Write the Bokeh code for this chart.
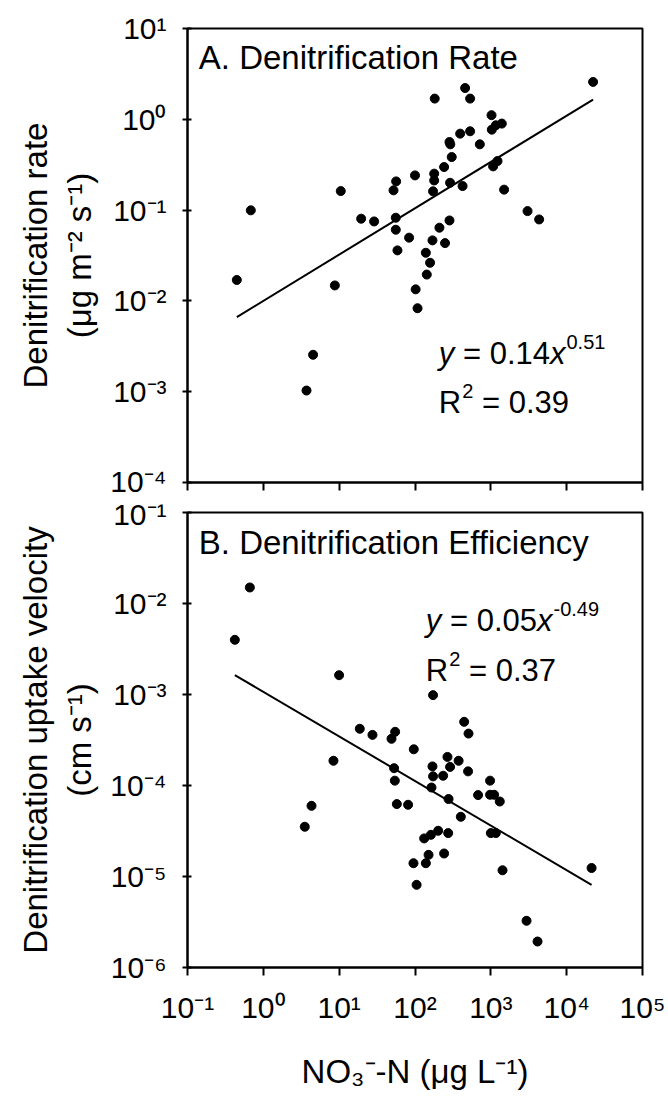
import numpy as np
from bokeh.plotting import figure
from bokeh.layouts import column
from bokeh.models import Label, FixedTicker, Range1d
from bokeh.embed import file_html
from bokeh.resources import INLINE

# ---------------- data ----------------
nitrate_a = [22300, 458, 533, 182, 1021, 1396, 1030, 1164, 394, 533, 285, 292, 716, 305,
             1225, 1072, 242, 100, 179, 179, 56.4, 52.1, 173, 290, 424, 10.5, 1496, 0.684,
             19.5, 28.9, 55.8, 3048, 4335, 285, 55.8, 210, 83.6, 170, 249, 58.7, 139, 158,
             143, 0.447, 8.77, 102, 108, 4.53, 3.71]
rate_a = [2.58, 2.21, 1.69, 1.69, 1.11, 0.897, 0.769, 0.859, 0.695, 0.738, 0.562, 0.53, 0.53,
          0.384, 0.347, 0.303, 0.298, 0.241, 0.252, 0.212, 0.207, 0.165, 0.161, 0.200, 0.184,
          0.162, 0.168, 0.0994, 0.0804, 0.075, 0.0824, 0.0975, 0.0789, 0.0769, 0.0608, 0.064,
          0.0497, 0.0464, 0.0433, 0.036, 0.0339, 0.0263, 0.0195, 0.017, 0.0148, 0.0134,
          0.0083, 0.00255, 0.00103]

nitrate_b = [0.664, 0.421, 9.98, 173, 445, 508, 18.7, 27.5, 54.7, 49, 96.4, 268, 376, 8.41,
             290, 170, 53, 501, 173, 235, 977, 54.2, 165, 679, 977, 1104, 1312, 277, 57.6,
             81.1, 4.32, 402, 3.52, 202, 274, 162, 132, 1000, 1164, 242, 151, 139, 95.5,
             1426, 21300, 105, 2958, 4130]
velocity_b = [1.50e-2, 3.99e-3, 1.63e-3, 9.84e-4, 5.01e-4, 3.72e-4, 4.2e-4, 3.6e-4, 3.89e-4,
              3.26e-4, 2.5e-4, 2.06e-4, 1.87e-4, 1.87e-4, 1.6e-4, 1.62e-4, 1.55e-4, 1.43e-4,
              1.26e-4, 1.28e-4, 1.13e-4, 1.13e-4, 9.5e-5, 7.85e-5, 7.91e-5, 7.91e-5, 6.67e-5,
              7.1e-5, 6.25e-5, 6.14e-5, 5.98e-5, 4.53e-5, 3.52e-5, 3.18e-5, 3.0e-5, 2.87e-5,
              2.62e-5, 3.0e-5, 3.0e-5, 1.79e-5, 1.73e-5, 1.4e-5, 1.4e-5, 1.17e-5, 1.24e-5,
              8.1e-6, 3.26e-6, 1.93e-6]

# power-law fit lines as drawn (coefficient, exponent)
fit_a = (0.01, 0.51)
fit_b = (0.00107, -0.49)

x_ticks = [0.1, 1, 10, 100, 1e3, 1e4, 1e5]
x_tick_labels = ["10⁻¹", "10⁰", "10¹", "10²", "10³", "10⁴", "10⁵"]
ya_ticks = [1e-4, 1e-3, 1e-2, 1e-1, 1, 10]
ya_tick_labels = ["10⁻⁴", "10⁻³", "10⁻²", "10⁻¹", "10⁰", "10¹"]
yb_ticks = [1e-6, 1e-5, 1e-4, 1e-3, 1e-2, 1e-1]
yb_tick_labels = ["10⁻⁶", "10⁻⁵", "10⁻⁴", "10⁻³", "10⁻²", "10⁻¹"]

FONT = "Liberation Sans"
TICK_FS = "30px"
LAB_FS = "33px"
EQ_F = 31
EQ_SUP = 20
ADV = {"0": .556, "1": .556, "2": .556, "3": .556, "4": .556, "5": .556, "6": .556,
       "7": .556, "8": .556, "9": .556, "-": .333, ".": .278, "=": .584, " ": .278}


def tw(s, size):
    return sum(ADV[c] for c in s) * size


def lab(p, x, y, text, size, dx=0, dy=0, align="left", style="normal"):
    p.add_layout(Label(x=x, y=y, text=text, x_offset=dx, y_offset=dy, text_font=FONT,
                       text_font_size=f"{size}px", text_font_style=style,
                       text_color="black", text_baseline="alphabetic", text_align=align))


def style(p, yticks, ylabels, ylabel, show_x):
    p.outline_line_color = "black"
    p.outline_line_width = 2
    p.xgrid.visible = False
    p.ygrid.visible = False
    p.background_fill_color = "white"
    p.border_fill_color = "white"
    for ax in p.axis:
        ax.axis_line_width = 2
        ax.axis_line_color = "black"
        ax.major_tick_line_width = 2
        ax.major_tick_line_color = "black"
        ax.minor_tick_line_color = None
        ax.major_label_text_font = FONT
        ax.major_label_text_font_size = TICK_FS
        ax.major_label_text_color = "black"
        ax.axis_label_text_font = FONT
        ax.axis_label_text_font_size = LAB_FS
        ax.axis_label_text_font_style = "normal"
        ax.axis_label_text_color = "black"
    p.xaxis.ticker = FixedTicker(ticks=x_ticks)
    p.xaxis.major_tick_out = 8
    p.xaxis.major_tick_in = 0
    if show_x:
        p.xaxis.major_label_overrides = dict(zip(x_ticks, x_tick_labels))
        p.xaxis.major_label_standoff = 15
        p.xaxis.axis_label = "NO₃⁻-N (μg L⁻¹)"
        p.xaxis.axis_label_standoff = 26
    else:
        p.xaxis.major_label_overrides = {t: "" for t in x_ticks}
        p.xaxis.major_label_text_font_size = "2px"
        p.xaxis.major_label_standoff = 0
    p.yaxis.ticker = FixedTicker(ticks=yticks)
    p.yaxis.major_label_overrides = dict(zip(yticks, ylabels))
    p.yaxis.major_tick_out = 5
    p.yaxis.major_tick_in = 4
    p.yaxis.major_label_standoff = 16
    p.yaxis.axis_label = ylabel
    p.yaxis.axis_label_standoff = 9


def equation(p, x, y1, y2, coef, expo, r2):
    w = EQ_F
    lab(p, x, y1, "y", EQ_F, style="italic")
    x1 = 0.5 * w + tw(" ", w)
    lab(p, x, y1, "= " + coef, EQ_F, dx=x1)
    xo = x1 + tw("= " + coef, w)
    lab(p, x, y1, "x", EQ_F, dx=xo, style="italic")
    lab(p, x, y1, expo, EQ_SUP, dx=xo + 0.5 * w + 1, dy=12)
    lab(p, x, y2, "R", EQ_F)
    lab(p, x, y2, "2", EQ_SUP, dx=0.722 * w + 1, dy=12)
    lab(p, x, y2, "= " + r2, EQ_F, dx=0.722 * w + tw("2", EQ_SUP) + tw(" ", w) + 1)


def fit_line(p, xs, fit):
    a, b = fit
    lx = np.array([min(xs), max(xs)])
    p.line(lx, a * lx ** b, line_color="black", line_width=2)


# ---------------- panel A ----------------
p1 = figure(width=668, height=497, x_axis_type="log", y_axis_type="log",
            x_range=Range1d(0.1, 1e5), y_range=Range1d(1e-4, 10),
            output_backend="svg", toolbar_location=None,
            min_border_left=187, min_border_right=26, min_border_top=28,
            min_border_bottom=15)
style(p1, ya_ticks, ya_tick_labels, "Denitrification rate\n(μg m⁻² s⁻¹)", False)
fit_line(p1, nitrate_a, fit_a)
p1.scatter(nitrate_a, rate_a, size=9, color="black")
lab(p1, 0.141, 4.74, "A. Denitrification Rate", 33)
equation(p1, 206, 0.00263, 0.000759, "0.14", "0.51", "0.39")

# ---------------- panel B ----------------
p2 = figure(width=668, height=603, x_axis_type="log", y_axis_type="log",
            x_range=p1.x_range, y_range=Range1d(1e-6, 1e-1),
            output_backend="svg", toolbar_location=None,
            min_border_left=187, min_border_right=26, min_border_top=15,
            min_border_bottom=133)
style(p2, yb_ticks, yb_tick_labels, "Denitrification uptake velocity\n(cm s⁻¹)", True)
fit_line(p2, nitrate_b, fit_b)
p2.scatter(nitrate_b, velocity_b, size=9, color="black")
lab(p2, 0.141, 0.0465, "B. Denitrification Efficiency", 33)
equation(p2, 139, 0.00646, 0.00182, "0.05", "-0.49", "0.37")

layout = column(p1, p2)
open("out.html", "w").write(file_html(layout, INLINE))
